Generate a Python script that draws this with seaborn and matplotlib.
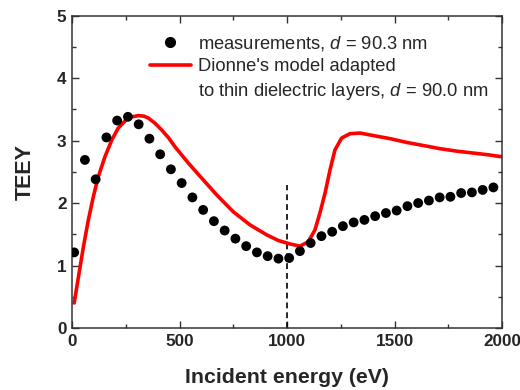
import numpy as np
import pandas as pd
import matplotlib
matplotlib.use("Agg")
import matplotlib.pyplot as plt
import seaborn as sns
from matplotlib.lines import Line2D
from matplotlib.ticker import MultipleLocator

# measured TEEY, d = 90.3 nm
meas_energy = [10, 60, 110, 160, 210, 260, 310, 360, 410, 460,
               510, 560, 610, 660, 710, 760, 810, 860, 910, 960,
               1010, 1060, 1110, 1160, 1210, 1260, 1310, 1360, 1410, 1460,
               1510, 1560, 1610, 1660, 1710, 1760, 1810, 1860, 1910, 1960]
meas_teey = [1.21, 2.69, 2.38, 3.05, 3.32, 3.38, 3.26, 3.03, 2.78, 2.54,
             2.32, 2.09, 1.89, 1.71, 1.56, 1.43, 1.31, 1.21, 1.15, 1.11,
             1.12, 1.23, 1.36, 1.47, 1.54, 1.63, 1.69, 1.73, 1.79, 1.84,
             1.88, 1.95, 2.00, 2.04, 2.09, 2.10, 2.16, 2.17, 2.21, 2.25]

# Dionne's model adapted to thin dielectric layers, d = 90.0 nm
model_energy = [10, 30, 53, 76, 99, 122, 153, 185, 215, 254,
                280, 309, 335, 355, 385, 417, 450, 479, 510, 541,
                595, 673, 750, 828, 906, 960, 1014, 1060, 1099, 1130,
                1153, 1177, 1200, 1223, 1254, 1293, 1340, 1401, 1480, 1557,
                1635, 1712, 1790, 1866, 1940, 2000]
model_teey = [0.40, 0.82, 1.30, 1.73, 2.10, 2.42, 2.74, 3.01, 3.20, 3.34,
              3.38, 3.40, 3.39, 3.36, 3.28, 3.17, 3.04, 2.90, 2.77, 2.64,
              2.43, 2.13, 1.86, 1.65, 1.49, 1.40, 1.345, 1.31, 1.38, 1.57,
              1.84, 2.16, 2.53, 2.85, 3.04, 3.11, 3.12, 3.08, 3.03, 2.97,
              2.92, 2.87, 2.83, 2.80, 2.77, 2.74]

crossover_energy = 1000
crossover_top = 2.29

meas = pd.DataFrame({"energy": meas_energy, "teey": meas_teey})
model = pd.DataFrame({"energy": model_energy, "teey": model_teey})

sns.set_style("ticks")
plt.rcParams["font.family"] = ["Liberation Sans", "DejaVu Sans"]
plt.rcParams["mathtext.fontset"] = "custom"
plt.rcParams["mathtext.it"] = "Liberation Sans:italic"
plt.rcParams["mathtext.rm"] = "Liberation Sans"

fig = plt.figure(figsize=(5.2, 3.9), dpi=100)
ax = fig.add_axes([0.1385, 0.159, 0.8269, 0.801])

sns.lineplot(data=model, x="energy", y="teey", color="#ff0000",
             linewidth=2.6, ax=ax, zorder=2)
sns.scatterplot(data=meas, x="energy", y="teey", color="black",
                s=50, edgecolor="none", ax=ax, zorder=3)
ax.plot([crossover_energy, crossover_energy], [0, crossover_top],
        color="black", linestyle=(0, (3.5, 2.4)), linewidth=1.2, zorder=1)

ax.set_xlim(0, 2000)
ax.set_ylim(0, 5)
ax.xaxis.set_major_locator(MultipleLocator(500))
ax.xaxis.set_minor_locator(MultipleLocator(250))
ax.yaxis.set_major_locator(MultipleLocator(1))
ax.yaxis.set_minor_locator(MultipleLocator(0.5))
ax.tick_params(which="both", direction="in", top=True, right=True,
               width=1, color="#333333")
ax.tick_params(which="major", length=5, labelsize=12.3, pad=4)
ax.tick_params(which="minor", length=3)
for lab in ax.get_xticklabels() + ax.get_yticklabels():
    lab.set_fontweight("bold")
for sp in ax.spines.values():
    sp.set_visible(True)
    sp.set_linewidth(1.1)
    sp.set_color("#333333")

ax.set_xlabel("Incident energy (eV)", fontsize=15.3, fontweight="bold", labelpad=14)
ax.set_ylabel("TEEY", fontsize=15.5, fontweight="bold", labelpad=15)

handles = [
    Line2D([], [], marker="o", linestyle="none", color="black", markersize=7),
    Line2D([], [], color="#ff0000", linewidth=2.6),
    Line2D([], [], linestyle="none"),
]
labels = [
    "measurements, $d$ = 90.3 nm",
    "Dionne's model adapted",
    "to thin dielectric layers, $d$ = 90.0 nm",
]
ax.legend(handles, labels, loc="upper left", bbox_to_anchor=(0.181, 0.942),
          frameon=False, fontsize=13.2, handlelength=2.25, handletextpad=0.35,
          labelspacing=0.3, borderpad=0, borderaxespad=0)

fig.savefig("out.png", dpi=100)
